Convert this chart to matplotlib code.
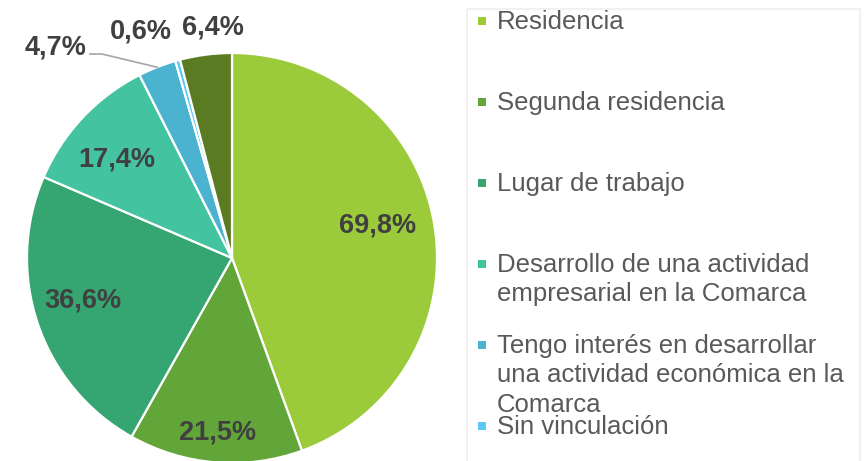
import numpy as np
import matplotlib.pyplot as plt
from matplotlib.patches import Rectangle

plt.rcParams['font.family'] = ['Liberation Sans', 'DejaVu Sans']

# data
labels = ['Residencia', 'Segunda residencia', 'Lugar de trabajo',
          'Desarrollo de una actividad\nempresarial en la Comarca',
          'Tengo interés en desarrollar\nuna actividad económica en la\nComarca',
          'Sin vinculación', 'Otros']
values = [69.8, 21.5, 36.6, 17.4, 4.7, 0.6, 6.4]
pct_text = ['69,8%', '21,5%', '36,6%', '17,4%', '4,7%', '0,6%', '6,4%']
colors = ['#9BCB3B', '#62A63A', '#35A571', '#44C3A0', '#4BB2CF', '#5BC8F5', '#5B7B23']

# label placement (radius, angle shift in degrees) relative to wedge middle
lab_r = [0.73, 0.855, 0.755, 0.74, 1.34, 1.19, 1.13]
lab_da = [2.7, 0.1, -2.7, 2.8, 18.5, 6.6, -2.7]

fig = plt.figure(figsize=(8.66, 4.61), dpi=100)
W, H = 866, 461
cx, cy, R = 232, 258, 205
ax = fig.add_axes([(cx - R) / W, (H - cy - R) / H, 2 * R / W, 2 * R / H])

wedges, _ = ax.pie(values, colors=colors, startangle=90, counterclock=False,
                   wedgeprops=dict(edgecolor='white', linewidth=1.6))
ax.set_xlim(-1, 1)
ax.set_ylim(-1, 1)
ax.set_aspect('equal')
ax.axis('off')

for i, w in enumerate(wedges):
    mid = np.deg2rad((w.theta1 + w.theta2) / 2 + lab_da[i])
    x, y = lab_r[i] * np.cos(mid), lab_r[i] * np.sin(mid)
    ax.text(x, y, pct_text[i], ha='center', va='center', fontsize=19.5,
            fontweight='bold', color='#404040', clip_on=False)

# leader line for the 4,7% label
w = wedges[4]
m = np.deg2rad((w.theta1 + w.theta2) / 2)
ax.plot([-0.693, -0.634, np.cos(m)], [0.995, 0.995, np.sin(m)],
        color='#A6A6A6', lw=1.2, clip_on=False)

# legend drawn in pixel space
lax = fig.add_axes([0, 0, 1, 1], zorder=-1)
lax.set_xlim(0, W)
lax.set_ylim(H, 0)
lax.axis('off')
lax.add_patch(Rectangle((467, 9), 393, 470, fill=False, edgecolor='#EFEFEF', lw=1.2))
for i, lab in enumerate(labels[:6]):
    yb = 29 + i * 81
    lax.add_patch(Rectangle((478, yb - 12), 8, 8, color=colors[i], lw=0))
    lax.text(497, yb - 19, lab, ha='left', va='top', fontsize=18.5,
             color='#595959', linespacing=1.28)

fig.savefig('out.png', dpi=100)
